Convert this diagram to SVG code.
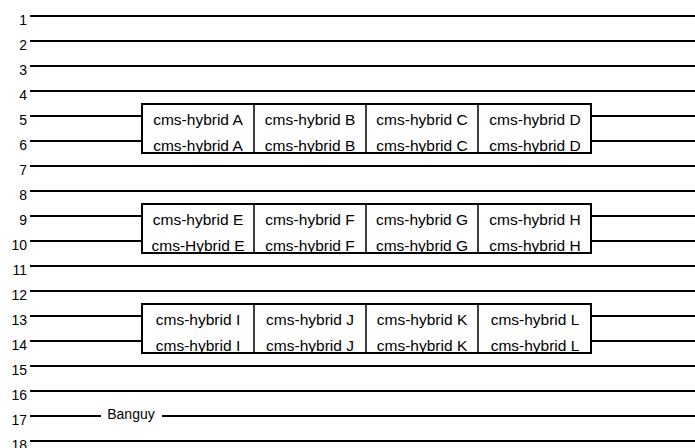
<svg xmlns="http://www.w3.org/2000/svg" width="695" height="448" viewBox="0 0 695 448">
<style>
.ln{stroke:#000;stroke-width:2;fill:none}
.lb{font-family:"Liberation Sans",Arial,sans-serif;font-size:14px;fill:#000;text-anchor:end}
.bx{fill:#fff;stroke:#000;stroke-width:2}
.dv{stroke:#000;stroke-width:1.5}
.tx{font-family:"Liberation Sans",Arial,sans-serif;font-size:15.5px;fill:#000;text-anchor:middle}
.bg{font-family:"Liberation Sans",Arial,sans-serif;font-size:14px;fill:#000;text-anchor:middle}
</style>
<rect width="695" height="448" fill="#fff"/>
<g id="connectors">
<path class="ln" d="M30 16H695M30 41H695M30 66H695M30 91H695M30 116H142M591 116H695M30 141H142M591 141H695M30 166H695M30 191H695M30 216H142M591 216H695M30 241H142M591 241H695M30 266H695M30 291H695M30 316H142M591 316H695M30 341H142M591 341H695M30 366H695M30 391H695M30 416H101M162 416H695M30 441H695"/>
</g>
<g id="labels">
<text class="lb" x="27" y="25">1</text>
<text class="lb" x="27" y="50">2</text>
<text class="lb" x="27" y="75">3</text>
<text class="lb" x="27" y="100">4</text>
<text class="lb" x="27" y="125">5</text>
<text class="lb" x="27" y="150">6</text>
<text class="lb" x="27" y="175">7</text>
<text class="lb" x="27" y="200">8</text>
<text class="lb" x="27" y="225">9</text>
<text class="lb" x="27" y="250">10</text>
<text class="lb" x="27" y="275">11</text>
<text class="lb" x="27" y="300">12</text>
<text class="lb" x="27" y="325">13</text>
<text class="lb" x="27" y="350">14</text>
<text class="lb" x="27" y="375">15</text>
<text class="lb" x="27" y="400">16</text>
<text class="lb" x="27" y="425">17</text>
<text class="lb" x="27" y="450">18</text>
</g>
<g id="banguy"><text class="bg" x="131" y="419">Banguy</text></g>
<g id="block1">
<rect class="bx" x="142" y="104" width="449" height="49"/>
<path class="dv" d="M254 104V153M366 104V153M478 104V153"/>
<text class="tx" x="198" y="125">cms-hybrid A</text><text class="tx" x="310" y="125">cms-hybrid B</text><text class="tx" x="422" y="125">cms-hybrid C</text><text class="tx" x="535" y="125">cms-hybrid D</text>
<text class="tx" x="198" y="150.5">cms-hybrid A</text><text class="tx" x="310" y="150.5">cms-hybrid B</text><text class="tx" x="422" y="150.5">cms-hybrid C</text><text class="tx" x="535" y="150.5">cms-hybrid D</text>
</g>
<g id="block2">
<rect class="bx" x="142" y="204" width="449" height="49"/>
<path class="dv" d="M254 204V253M366 204V253M478 204V253"/>
<text class="tx" x="198" y="225">cms-hybrid E</text><text class="tx" x="310" y="225">cms-hybrid F</text><text class="tx" x="422" y="225">cms-hybrid G</text><text class="tx" x="535" y="225">cms-hybrid H</text>
<text class="tx" x="198" y="250.5">cms-Hybrid E</text><text class="tx" x="310" y="250.5">cms-hybrid F</text><text class="tx" x="422" y="250.5">cms-hybrid G</text><text class="tx" x="535" y="250.5">cms-hybrid H</text>
</g>
<g id="block3">
<rect class="bx" x="142" y="304" width="449" height="49"/>
<path class="dv" d="M254 304V353M366 304V353M478 304V353"/>
<text class="tx" x="198" y="325">cms-hybrid I</text><text class="tx" x="310" y="325">cms-hybrid J</text><text class="tx" x="422" y="325">cms-hybrid K</text><text class="tx" x="535" y="325">cms-hybrid L</text>
<text class="tx" x="198" y="350.5">cms-hybrid I</text><text class="tx" x="310" y="350.5">cms-hybrid J</text><text class="tx" x="422" y="350.5">cms-hybrid K</text><text class="tx" x="535" y="350.5">cms-hybrid L</text>
</g>
</svg>
